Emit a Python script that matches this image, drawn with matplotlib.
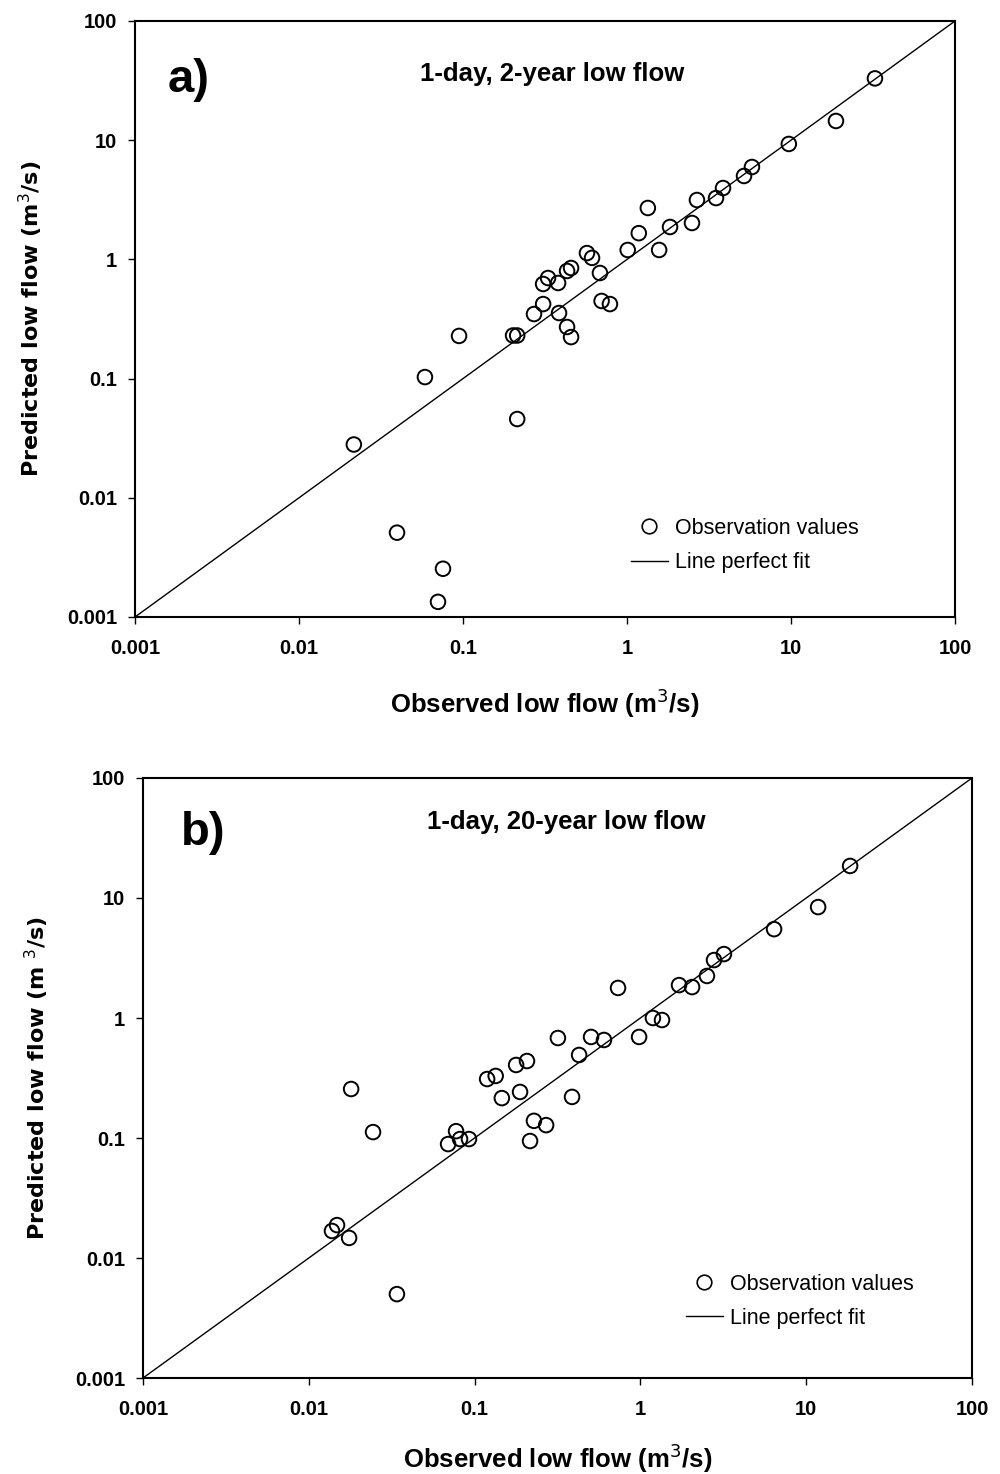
import matplotlib
matplotlib.use("Agg")
import matplotlib.pyplot as plt
from matplotlib.lines import Line2D

plt.rcParams['font.family'] = ['Liberation Sans', 'DejaVu Sans']

# ---- Data ----
tick_values = [0.001, 0.01, 0.1, 1, 10, 100]
tick_labels = ['0.001', '0.01', '0.1', '1', '10', '100']

obs_a = [0.0216, 0.0396, 0.0755, 0.0704, 0.0586, 0.0946, 0.202, 0.214, 0.214,
         0.271, 0.308, 0.385, 0.431, 0.456, 0.308, 0.330, 0.380, 0.431, 0.456,
         0.570, 0.612, 0.684, 0.700, 0.787, 1.01, 1.18, 1.34, 1.57, 1.83, 2.49,
         2.67, 3.49, 3.85, 5.17, 5.78, 9.7, 18.8, 32.5]
pred_a = [0.028, 0.0051, 0.00254, 0.00134, 0.103, 0.228, 0.23, 0.23, 0.0458,
          0.348, 0.422, 0.355, 0.271, 0.223, 0.622, 0.698, 0.634, 0.80, 0.847,
          1.13, 1.03, 0.769, 0.448, 0.422, 1.2, 1.66, 2.70, 1.2, 1.87, 2.02,
          3.15, 3.27, 3.97, 5.01, 5.96, 9.3, 14.5, 33.0]

obs_b = [0.0692, 0.0773, 0.0817, 0.0925, 0.119, 0.134, 0.146, 0.178, 0.207,
         0.188, 0.228, 0.270, 0.216, 0.318, 0.387, 0.427, 0.504, 0.603, 0.733,
         0.982, 1.19, 1.35, 1.71, 2.05, 2.52, 2.78, 3.19, 6.4, 11.8, 18.4,
         0.0180, 0.0244, 0.0148, 0.0138, 0.0175, 0.034]
pred_b = [0.089, 0.114, 0.098, 0.098, 0.31, 0.329, 0.215, 0.406, 0.438,
          0.242, 0.139, 0.128, 0.0944, 0.681, 0.22, 0.492, 0.695, 0.656, 1.78,
          0.695, 1.0, 0.962, 1.88, 1.81, 2.24, 3.04, 3.41, 5.5, 8.4, 18.5,
          0.256, 0.112, 0.0188, 0.0168, 0.0147, 0.005]

fit_line = [0.001, 100]

W, H = 1000, 1474
fig = plt.figure(figsize=(W / 100, H / 100), dpi=100)


def make_panel(rect, obs, pred, letter, title, ylabel, leg_anchor,
               xlab_y, ylab_x, letter_pos, title_pos):
    l, t, r, b = rect
    ax = fig.add_axes([l / W, 1 - b / H, (r - l) / W, (b - t) / H])
    ax.set_xscale('log')
    ax.set_yscale('log')
    ax.set_xlim(0.001, 100)
    ax.set_ylim(0.001, 100)
    ax.plot(fit_line, fit_line, color='black', lw=1.0, zorder=2)
    ax.scatter(obs, pred, s=110, facecolors='none', edgecolors='black',
               linewidths=1.4, zorder=3)
    ax.set_xticks(tick_values)
    ax.set_xticklabels(tick_labels)
    ax.set_yticks(tick_values)
    ax.set_yticklabels(tick_labels)
    ax.minorticks_off()
    ax.tick_params(axis='both', direction='out', length=5, width=1.0,
                   labelsize=14.5)
    ax.tick_params(axis='x', pad=11)
    ax.tick_params(axis='y', pad=8)
    for lab in ax.get_xticklabels() + ax.get_yticklabels():
        lab.set_fontweight('bold')
    for sp in ax.spines.values():
        sp.set_linewidth(1.5)
    ax.set_xlabel('Observed low flow (m$^3$/s)', fontsize=18.5,
                  fontweight='bold', va='center')
    ax.xaxis.set_label_coords(0.5, xlab_y)
    ax.set_ylabel(ylabel, fontsize=16, fontweight='bold', va='center',
                  family=['DejaVu Sans'])
    ax.yaxis.set_label_coords(ylab_x, 0.5)
    ax.text(letter_pos[0], letter_pos[1], letter, transform=ax.transAxes,
            fontsize=34, fontweight='bold', va='center', ha='left')
    ax.text(title_pos[0], title_pos[1], title, transform=ax.transAxes,
            fontsize=18.5, fontweight='bold', va='center', ha='center')
    handles = [Line2D([], [], ls='none', marker='o', markersize=10.5,
                      markerfacecolor='none', markeredgecolor='black',
                      markeredgewidth=1.2),
               Line2D([], [], color='black', lw=1.0)]
    ax.legend(handles, ['Observation values', 'Line perfect fit'],
              loc='center left', bbox_to_anchor=leg_anchor, frameon=False,
              fontsize=15.5, handlelength=1.7, handletextpad=0.35,
              labelspacing=0.62, borderpad=0, borderaxespad=0)
    return ax


make_panel((135, 21, 955, 617), obs_a, pred_a, 'a)',
           '1-day, 2-year low flow', 'Predicted low flow (m$^3$/s)',
           (0.605, 0.12), -0.1443, -0.127, (0.04, 0.901), (0.509, 0.911))
make_panel((143, 778, 972, 1378), obs_b, pred_b, 'b)',
           '1-day, 20-year low flow', 'Predicted low flow (m $^3$/s)',
           (0.655, 0.128), -0.1333, -0.128, (0.046, 0.908), (0.51, 0.926))

fig.savefig('out.png', dpi=100)
